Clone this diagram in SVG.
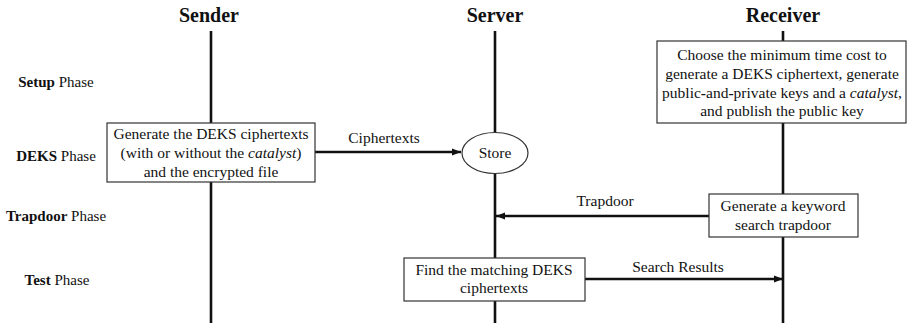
<svg xmlns="http://www.w3.org/2000/svg" width="907" height="323" viewBox="0 0 907 323">
<defs>
<marker id="ah" viewBox="0 0 10 10" refX="10" refY="5" markerWidth="9" markerHeight="9" markerUnits="userSpaceOnUse" orient="auto">
<path d="M0,1 L10,5 L0,9 z" fill="#111"/>
</marker>
<style>
text{font-family:"Liberation Serif","Times New Roman",serif;fill:#111}
.t{font-size:20px;font-weight:bold;text-anchor:middle}
.b{font-size:15.5px;text-anchor:middle}
.p{font-size:15px;text-anchor:middle}
.life{stroke:#111;stroke-width:2.6;fill:none}
.box{fill:#fff;stroke:#333;stroke-width:1.2}
.arr{stroke:#111;stroke-width:2.6;fill:none;marker-end:url(#ah)}
</style>
</defs>
<rect width="907" height="323" fill="#fff"/>
<g id="titles">
<text class="t" x="209" y="22">Sender</text>
<text class="t" x="495" y="22">Server</text>
<text class="t" x="783" y="22">Receiver</text>
</g>
<g id="phases">
<text class="p" x="56" y="87"><tspan font-weight="bold">Setup</tspan> Phase</text>
<text class="p" x="56" y="161"><tspan font-weight="bold">DEKS</tspan> Phase</text>
<text class="p" x="56" y="221"><tspan font-weight="bold">Trapdoor</tspan> Phase</text>
<text class="p" x="57" y="285"><tspan font-weight="bold">Test</tspan> Phase</text>
</g>
<g id="lifelines">
<line class="life" x1="211" y1="31" x2="211" y2="323"/>
<line class="life" x1="495" y1="31" x2="495" y2="323"/>
<line class="life" x1="783" y1="31" x2="783" y2="323"/>
</g>
<g id="connectors">
<line class="arr" x1="315" y1="152" x2="461" y2="152"/>
<text class="b" x="384" y="143">Ciphertexts</text>
<line class="arr" x1="709" y1="216" x2="496" y2="216"/>
<text class="b" x="605" y="206">Trapdoor</text>
<line class="arr" x1="585" y1="279" x2="783" y2="279"/>
<text class="b" x="678" y="272">Search Results</text>
</g>
<g id="sender-deks">
<rect class="box" x="107" y="123" width="208" height="59"/>
<text class="b" x="211" y="139">Generate the DEKS ciphertexts</text>
<text class="b" x="211" y="158">(with or without the <tspan font-style="italic">catalyst</tspan>)</text>
<text class="b" x="211" y="177">and the encrypted file</text>
</g>
<g id="server-store">
<ellipse cx="495" cy="153" rx="33" ry="20.5" fill="#fff" stroke="#333" stroke-width="1.2"/>
<text class="b" x="495" y="158">Store</text>
</g>
<g id="receiver-setup">
<rect class="box" x="657" y="41" width="249" height="82"/>
<text class="b" x="782" y="60">Choose the minimum time cost to</text>
<text class="b" x="782" y="79">generate a DEKS ciphertext, generate</text>
<text class="b" x="782" y="98">public<tspan font-weight="bold">-</tspan>and<tspan font-weight="bold">-</tspan>private keys and a <tspan font-style="italic">catalyst</tspan>,</text>
<text class="b" x="782" y="116">and publish the public key</text>
</g>
<g id="receiver-trapdoor">
<rect class="box" x="709" y="194" width="149" height="43"/>
<text class="b" x="783" y="211">Generate a keyword</text>
<text class="b" x="783" y="230">search trapdoor</text>
</g>
<g id="server-test">
<rect class="box" x="404" y="258" width="181" height="43"/>
<text class="b" x="494" y="275">Find the matching DEKS</text>
<text class="b" x="494" y="293">ciphertexts</text>
</g>
</svg>
